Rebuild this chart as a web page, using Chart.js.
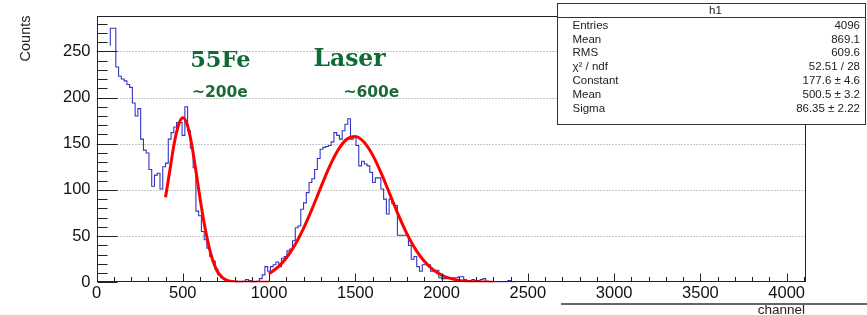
<!DOCTYPE html>
<html>
<head>
<meta charset="utf-8">
<script src="https://cdn.jsdelivr.net/npm/chart.js@4.4.1/dist/chart.umd.min.js"></script>
<style>
html,body{margin:0;padding:0;background:#fff;}
canvas{display:block;}
</style>
</head>
<body>
<canvas id="c" width="867" height="315"></canvas>
<script>
// ---------- data ----------
const binWidth = 16;          // channels per histogram bin
const firstBin = 80;          // low edge of first non-empty bin
const counts = [
  256,275,275,233,223,220,218,214,211,194,180,188,155,143,140,122,104,116,118,101,
  125,129,155,162,168,173,173,159,190,164,145,124,77,72,55,46,37,28,23,14,
  8,5,3,2,1,1,0,0,0,1,3,2,0,0,1,4,8,17,12,17,
  19,22,17,26,28,34,36,45,59,61,79,86,97,108,112,122,134,144,146,147,
  148,152,162,159,155,164,171,177,155,157,148,126,131,128,126,119,108,113,113,101,
  90,74,90,85,83,51,51,51,51,40,25,28,17,12,19,19,19,12,12,13,
  5,4,4,5,5,5,5,6,6,3,2,2,3,2,2,3,4,1,0,0,
  0,0,0,0,0,2,0
];
// Fit curves
const feFitCh  = [400,425,450,475,500,525,550,575,600,625,650,675,700,725,750,775,800,825,850,900,950,1000];
const feFitVal = [92,121,150,170,178,171,151,122,91,63,40,23,12,6,2.7,1.1,0.4,0.15,0,0,0,0];
const laserFitCh  = [1000,1050,1100,1150,1200,1250,1300,1350,1400,1450,1500,1550,1600,1650,1700,1750,1800,1850,1900,1950,2000,2050,2100,2150,2200,2250,2300];
const laserFitVal = [9.4,16.2,26.3,40.4,58.4,79.8,102.8,124.9,143.1,154.8,157.9,151.9,137.9,118.1,95.4,72.7,52.2,35.4,22.7,13.7,7.8,4.2,2.1,1.0,0.5,0.2,0.1];
const xTickLabels = [0,500,1000,1500,2000,2500,3000,3500,4000];
const yTickLabels = [0,50,100,150,200,250];
const xMinorStep = 100, yMinorStep = 10;
const statsTitle = 'h1';
const statsLabels = ['Entries','Mean','RMS','\u03c7\u00b2 / ndf','Constant','Mean','Sigma'];
const statsValues = ['4096','869.1','609.6','52.51 / 28','177.6 \u00b1 4.6','500.5 \u00b1 3.2','86.35 \u00b1 2.22'];
const annotations = [
  {text:'55Fe',  ch:543,  val:233.5, font:'bold 22.5px "DejaVu Serif", serif', color:'#0d6b35', base:'alphabetic'},
  {text:'~200e', ch:553,  val:204.5, font:'bold 15.5px "DejaVu Sans", sans-serif', color:'#1d6a36', base:'middle'},
  {text:'Laser', ch:1257, val:234.4, font:'bold 23.5px "DejaVu Serif", serif', color:'#0d6b35', base:'alphabetic'},
  {text:'~600e', ch:1431, val:204.9, font:'bold 15.5px "DejaVu Sans", sans-serif', color:'#1d6a36', base:'middle'}
];

// ---------- build datasets ----------
const histPts = [];
counts.forEach((c,i)=>histPts.push({x:firstBin+i*binWidth, y:c}));
histPts.push({x:firstBin+counts.length*binWidth, y:0});
const fePts = feFitCh.map((c,i)=>({x:c,y:feFitVal[i]}));
const laserPts = laserFitCh.map((c,i)=>({x:c,y:laserFitVal[i]}));

const SANS = '"Liberation Sans", Arial, Helvetica, sans-serif';

const rootStyle = {
  id:'rootStyle',
  beforeDatasetsDraw(chart){
    const {ctx, chartArea:a, scales:{y}} = chart;
    ctx.save();
    ctx.strokeStyle = '#8a8a8a'; ctx.lineWidth = 1; ctx.setLineDash([1,2]);
    yTickLabels.forEach(v=>{
      if(v===0) return;
      const py = Math.round(y.getPixelForValue(v))+0.5;
      ctx.beginPath(); ctx.moveTo(a.left,py); ctx.lineTo(a.right,py); ctx.stroke();
    });
    ctx.restore();
  },
  afterDatasetsDraw(chart){
    const {ctx, chartArea:a, scales:{x,y}} = chart;
    ctx.save();
    // frame
    ctx.strokeStyle = '#222'; ctx.lineWidth = 1;
    const L=Math.round(a.left)+0.5, R=Math.round(a.right)-0.5, T=Math.round(a.top)+0.5, B=Math.round(a.bottom)-0.5;
    ctx.strokeRect(L,T,R-L,B-T);
    // y ticks
    ctx.beginPath();
    for(let v=0; v<=y.max+0.01; v+=yMinorStep){
      const py = Math.round(y.getPixelForValue(v))+0.5;
      const len = yTickLabels.includes(v) ? 20 : 10;
      ctx.moveTo(L,py); ctx.lineTo(L+len,py);
    }
    // x ticks
    for(let v=0; v<=x.max; v+=xMinorStep){
      const px = Math.round(x.getPixelForValue(v))+0.5;
      const len = xTickLabels.includes(v) ? 8 : 4.5;
      ctx.moveTo(px,B); ctx.lineTo(px,B-len);
    }
    ctx.stroke();

    // axis titles
    ctx.fillStyle = '#222';
    ctx.font = '14.5px ' + SANS;
    ctx.save();
    ctx.translate(30, a.top);
    ctx.rotate(-Math.PI/2);
    ctx.textAlign = 'right'; ctx.textBaseline = 'alphabetic';
    ctx.fillText('Counts', 0, 0);
    ctx.restore();
    ctx.font = '13.5px ' + SANS;
    ctx.textAlign = 'right'; ctx.textBaseline = 'alphabetic';
    ctx.fillText('channel', a.right-1, 313.5);
    // slide line under plot
    ctx.strokeStyle = '#333'; ctx.lineWidth = 1.3;
    ctx.beginPath(); ctx.moveTo(561,304); ctx.lineTo(867,304); ctx.stroke();

    // annotations
    annotations.forEach(an=>{
      ctx.font = an.font; ctx.fillStyle = an.color;
      ctx.textAlign = 'left'; ctx.textBaseline = an.base;
      ctx.fillText(an.text, x.getPixelForValue(an.ch), y.getPixelForValue(an.val));
    });

    // stats box
    const bx=557.5, by=3.5, bw=308, bh=121;
    ctx.fillStyle = '#fff'; ctx.fillRect(bx,by,bw,bh);
    ctx.strokeStyle = '#333'; ctx.lineWidth = 1;
    ctx.strokeRect(bx,by,bw,bh);
    ctx.beginPath(); ctx.moveTo(bx,17.5); ctx.lineTo(bx+bw,17.5); ctx.stroke();
    ctx.fillStyle = '#222';
    ctx.font = '11.5px ' + SANS;
    ctx.textAlign = 'center'; ctx.textBaseline = 'middle';
    ctx.fillText(statsTitle, bx+bw/2+4, 10.5);
    const rowY = [26, 39.5, 53, 67, 80.5, 94.5, 108.5];
    statsLabels.forEach((lab,i)=>{
      ctx.textAlign='left'; ctx.fillText(lab, 572.5, rowY[i]);
      ctx.textAlign='right'; ctx.fillText(statsValues[i], 860, rowY[i]);
    });
    ctx.restore();
  }
};

new Chart(document.getElementById('c'), {
  type:'line',
  data:{datasets:[
    {data:histPts, stepped:'after', borderColor:'#3434c4', borderWidth:1.1, pointRadius:0, fill:false, order:2},
    {data:fePts, borderColor:'#ff0000', borderWidth:3, pointRadius:0, cubicInterpolationMode:'monotone', fill:false, order:1},
    {data:laserPts, borderColor:'#ff0000', borderWidth:3, pointRadius:0, cubicInterpolationMode:'monotone', fill:false, order:1}
  ]},
  options:{
    responsive:false, animation:false, devicePixelRatio:1,
    layout:{padding:{top:15.5, right:61, left:0, bottom:0}},
    plugins:{legend:{display:false}, tooltip:{enabled:false}, title:{display:false}},
    scales:{
      x:{type:'linear', min:0, max:4112,
         afterBuildTicks(s){ s.ticks = xTickLabels.map(v=>({value:v})); },
         afterFit(s){s.height=32.7;},
         grid:{display:false}, border:{display:false},
         ticks:{padding:-7, autoSkip:false, maxRotation:0, minRotation:0,
                color:'#111', font:{family:SANS, size:16.5}, callback:v=>String(v)}},
      y:{type:'linear', min:0, max:288.75,
         afterBuildTicks(s){ s.ticks = yTickLabels.map(v=>({value:v})); },
         afterFit(s){s.width=96.5;},
         grid:{display:false}, border:{display:false},
         ticks:{padding:-2, color:'#111', font:{family:SANS, size:16.5}, callback:v=>String(v)}}
    }
  },
  plugins:[rootStyle]
});
</script>
</body>
</html>
